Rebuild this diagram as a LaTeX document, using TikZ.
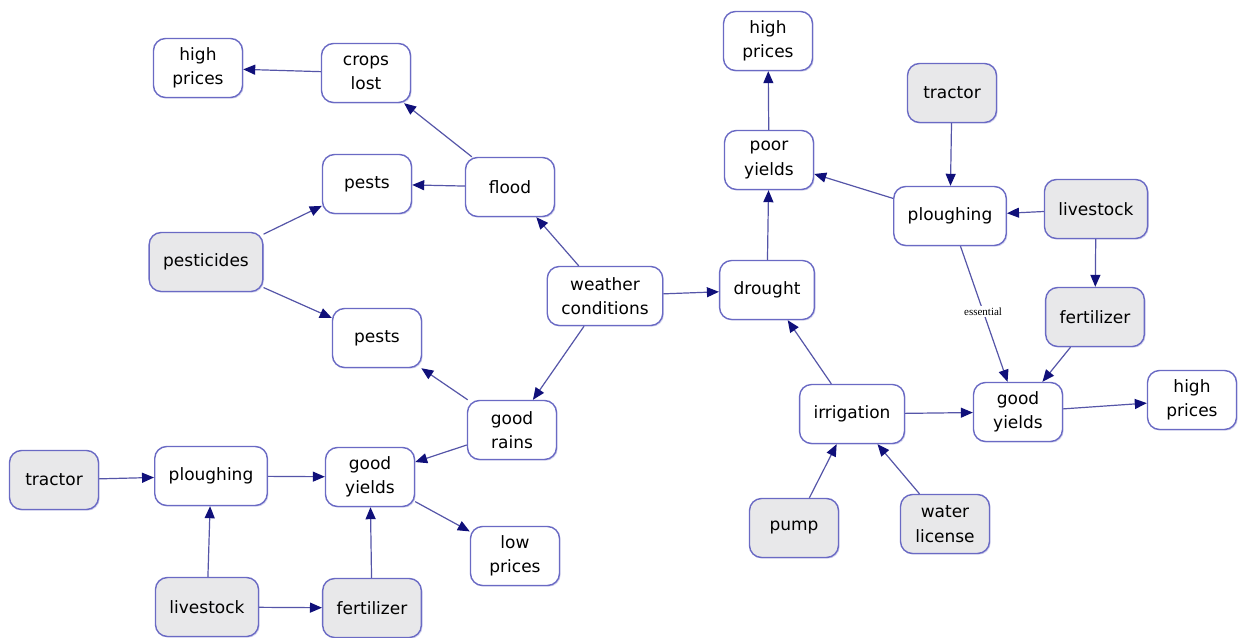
\documentclass[tikz,border=0pt]{standalone}
\usepackage{fontspec}
\setmainfont{DejaVu Sans}
\newfontfamily\labelfont{Liberation Serif}
\usetikzlibrary{arrows.meta,shadows}
\definecolor{edgeblue}{HTML}{5555A8}
\definecolor{tipblue}{HTML}{10107A}
\definecolor{boxline}{HTML}{6A6AC4}
\definecolor{grayfill}{HTML}{E8E8EA}
\tikzset{
  concept/.style={draw=boxline, line width=1.4pt, fill=white, rounded corners=12pt,
    minimum width=89pt, minimum height=59pt, inner xsep=14pt, align=center,
    font=\fontsize{17}{24.5}\selectfont,
    drop shadow={shadow xshift=1.2pt, shadow yshift=-1.2pt, opacity=0.25, fill=boxline}},
  source/.style={concept, fill=grayfill},
  link/.style={draw=edgeblue, line width=1.2pt,
    -{Triangle[length=12pt, width=10pt, color=tipblue]}},
  linklabel/.style={fill=white, inner sep=1.5pt, font=\labelfont\fontsize{11}{13}\selectfont}
}
\begin{document}
\begin{tikzpicture}[x=1pt, y=-1pt]
\useasboundingbox[fill=white] (0,0) rectangle (1239,637);

% left half: weather and its consequences
\node[concept] (hpTL)   at (198,68)  {high\\prices};
\node[concept] (crops)  at (366,73)  {crops\\lost};
\node[concept] (pestsA) at (367,184) {pests};
\node[concept] (flood)  at (510,187) {flood};
\node[source]  (pestic) at (206,262) {pesticides};
\node[concept] (weather) at (605,296) {weather\\conditions};
\node[concept] (pestsB) at (377,338) {pests};
\node[concept] (rains)  at (512,430) {good\\rains};
\node[source]  (tractL) at (54,480)  {tractor};
\node[concept] (ploughL) at (211,476) {ploughing};
\node[concept] (yieldL) at (370,477) {good\\yields};
\node[concept] (lowp)   at (515,556) {low\\prices};
\node[source]  (liveL)  at (207,607) {livestock};
\node[source]  (fertL)  at (372,608) {fertilizer};

% right half: drought and irrigation
\node[concept] (hpTR)   at (768,41)  {high\\prices};
\node[concept] (poor)   at (769,160) {poor\\yields};
\node[source]  (tractR) at (952,93)  {tractor};
\node[concept] (ploughR) at (950,216) {ploughing};
\node[source]  (liveR)  at (1096,209) {livestock};
\node[concept] (drought) at (767,290) {drought};
\node[source]  (fertR)  at (1095,317) {fertilizer};
\node[concept] (irrig)  at (852,414) {irrigation};
\node[concept] (yieldR) at (1018,412) {good\\yields};
\node[concept] (hpR)    at (1192,400) {high\\prices};
\node[source]  (pump)   at (794,528) {pump};
\node[source]  (water)  at (945,524) {water\\license};

% connectors
\draw[link] (crops) -- (hpTL);
\draw[link] (flood) -- (crops);
\draw[link] (flood) -- (pestsA);
\draw[link] (pestic) -- (pestsA);
\draw[link] (pestic) -- (pestsB);
\draw[link] (weather) -- (flood);
\draw[link] (weather) -- (drought);
\draw[link] (weather) -- (rains);
\draw[link] (rains) -- (pestsB);
\draw[link] (rains) -- (yieldL);
\draw[link] (tractL) -- (ploughL);
\draw[link] (ploughL) -- (yieldL);
\draw[link] (liveL) -- (ploughL);
\draw[link] (liveL) -- (fertL);
\draw[link] (fertL) -- (yieldL);
\draw[link] (yieldL) -- (lowp);

\draw[link] (drought) -- (poor);
\draw[link] (poor) -- (hpTR);
\draw[link] (ploughR) -- (poor);
\draw[link] (tractR) -- (ploughR);
\draw[link] (liveR) -- (ploughR);
\draw[link] (liveR) -- (fertR);
\draw[link] (ploughR) -- node[linklabel, pos=0.48] {essential} (yieldR);
\draw[link] (fertR) -- (yieldR);
\draw[link] (irrig) -- (drought);
\draw[link] (irrig) -- (yieldR);
\draw[link] (yieldR) -- (hpR);
\draw[link] (pump) -- (irrig);
\draw[link] (water) -- (irrig);
\end{tikzpicture}
\end{document}
